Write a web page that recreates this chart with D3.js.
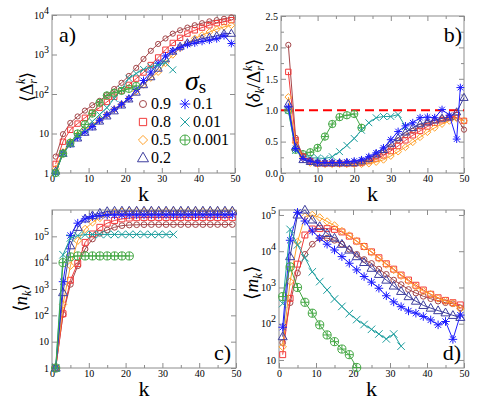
<!DOCTYPE html>
<html>
<head>
<meta charset="utf-8">
<script src="https://cdn.jsdelivr.net/npm/d3@7"></script>
<style>
  body { margin: 0; background: #fff; }
  svg { display: block; }
</style>
</head>
<body>
<svg id="fig" width="491" height="415"></svg>
<script>
// ---- data ----
var names = ["0.9", "0.8", "0.5", "0.2", "0.1", "0.01", "0.001"];

var kOdd = [1, 3, 5, 7, 9, 11, 13, 15, 17, 19, 21, 23, 25, 27, 29, 31, 33, 35, 37, 39, 41, 43, 45, 47, 49];
var kOdd33 = [1, 3, 5, 7, 9, 11, 13, 15, 17, 19, 21, 23, 25, 27, 29, 31, 33];
var kOdd23 = [1, 3, 5, 7, 9, 11, 13, 15, 17, 19, 21, 23];
var kOdd21 = [1, 3, 5, 7, 9, 11, 13, 15, 17, 19, 21];
var kEven = [2, 4, 6, 8, 10, 12, 14, 16, 18, 20, 22, 24, 26, 28, 30, 32, 34, 36, 38, 40, 42, 44, 46, 48, 50];
var kEven34 = [2, 4, 6, 8, 10, 12, 14, 16, 18, 20, 22, 24, 26, 28, 30, 32, 34];
var kEven22 = [2, 4, 6, 8, 10, 12, 14, 16, 18, 20, 22];
var kStarB = [2, 4, 6, 8, 10, 12, 14, 16, 18, 20, 22, 24, 26, 28, 30, 32, 34, 36, 38, 40, 42, 44, 46, 48, 49];

// a) <Delta_r^k>
var a09 = [2.6, 9.6, 18.5, 27, 38, 52, 67, 94, 134, 192, 286, 460, 770, 1240, 1850, 2550, 3370, 4100, 4800, 5500, 6200, 6900, 7400, 8000, 8700];
var a08 = [1.7, 6.2, 12.4, 17.8, 25, 34, 45, 63, 85, 122, 170, 245, 350, 540, 840, 1320, 1960, 2640, 3380, 4100, 4800, 5500, 6200, 6700, 7400];
var a05 = [1.3, 3.4, 6.2, 9.2, 12.4, 16.7, 22.5, 30, 41, 55, 77, 115, 170, 255, 360, 600, 980, 1450, 1960, 2550, 3100, 3700, 4350, 5000, 5500];
var a02 = [1.1, 3.1, 5.4, 7.6, 10.6, 14.5, 20.4, 27.5, 37, 52, 74, 110, 170, 270, 445, 770, 1200, 1600, 1960, 2240, 2500, 2750, 2950, 3370, 3400];
var a01 = [1, 3.2, 5.4, 8, 11, 15, 21.6, 30, 41, 55, 77, 130, 220, 360, 600, 920, 1240, 1500, 1800, 1960, 2150, 2300, 2500, 3000, 1900];
var a001 = [1, 3.1, 5.6, 8.7, 12.9, 20, 30, 45, 77, 130, 250, 330, 420, 490, 540, 620, 410];
var a0001 = [1, 3.1, 5.8, 10, 17, 32, 60, 92, 108, 120, 135, 160];

// b) <delta_k / Delta_r^k>
var b09 = [2.04, 0.56, 0.27, 0.2, 0.165, 0.15, 0.15, 0.15, 0.15, 0.155, 0.175, 0.21, 0.26, 0.33, 0.41, 0.52, 0.6, 0.67, 0.74, 0.8, 0.84, 0.87, 0.89, 0.88, 0.69];
var b08 = [1.61, 0.52, 0.26, 0.19, 0.15, 0.15, 0.15, 0.15, 0.15, 0.15, 0.16, 0.19, 0.23, 0.28, 0.35, 0.43, 0.52, 0.6, 0.67, 0.74, 0.8, 0.84, 0.88, 0.92, 0.83];
var b05 = [1.21, 0.48, 0.23, 0.16, 0.14, 0.14, 0.14, 0.14, 0.14, 0.14, 0.14, 0.15, 0.175, 0.21, 0.27, 0.34, 0.41, 0.49, 0.57, 0.65, 0.72, 0.78, 0.83, 0.87, 0.83];
var b02 = [1.1, 0.41, 0.21, 0.18, 0.16, 0.16, 0.16, 0.16, 0.16, 0.16, 0.19, 0.23, 0.3, 0.37, 0.47, 0.56, 0.65, 0.72, 0.78, 0.81, 0.84, 0.87, 0.89, 0.97, 1.2];
var b01 = [1.05, 0.39, 0.23, 0.19, 0.165, 0.165, 0.165, 0.165, 0.175, 0.19, 0.21, 0.26, 0.32, 0.4, 0.53, 0.66, 0.75, 0.8, 0.88, 0.89, 0.88, 1.01, 0.92, 0.54, 1.36];
var b001 = [1.0, 0.36, 0.28, 0.24, 0.24, 0.23, 0.26, 0.34, 0.44, 0.55, 0.68, 0.8, 0.88, 0.9, 0.9, 0.93, 0.74];
var b0001 = [1.0, 0.37, 0.3, 0.33, 0.4, 0.58, 0.78, 0.89, 0.92, 0.94, 0.72];

// c) <n_k>
var c09 = [1, 108, 1500, 7600, 33000, 79000, 130000, 174000, 220000, 255000, 268000, 275000, 278000, 280000, 280000, 280000, 280000, 280000, 280000, 280000, 280000, 280000, 280000, 280000, 280000];
var c08 = [1, 115, 2150, 9300, 59000, 123000, 220000, 316000, 400000, 460000, 495000, 510000, 520000, 520000, 520000, 520000, 520000, 520000, 520000, 520000, 520000, 520000, 520000, 520000, 520000];
var c05 = [1, 260, 7600, 68000, 190000, 340000, 500000, 670000, 800000, 860000, 880000, 890000, 890000, 890000, 890000, 890000, 890000, 890000, 890000, 890000, 890000, 890000, 890000, 890000, 890000];
var c02 = [1, 730, 44000, 220000, 460000, 615000, 760000, 880000, 910000, 920000, 920000, 920000, 920000, 920000, 920000, 920000, 920000, 920000, 920000, 920000, 920000, 920000, 920000, 920000, 920000];
var c01 = [1, 1900, 107000, 316000, 460000, 560000, 615000, 640000, 650000, 650000, 650000, 650000, 650000, 650000, 650000, 650000, 650000, 650000, 650000, 650000, 650000, 650000, 650000, 650000, 650000];
var c001 = [1, 20000, 87000, 107000, 116000, 118000, 118000, 118000, 118000, 118000, 118000, 118000, 118000, 118000, 118000, 118000, 118000];
var c0001 = [1, 10000, 16600, 18000, 18000, 18000, 18000, 18000, 18000, 18000, 18000];

// d) <m_k>
var d09 = [30, 380, 2500, 8200, 15600, 23000, 23000, 20000, 15600, 11300, 8200, 5900, 4600, 3200, 2300, 1600, 1200, 880, 700, 570, 490, 420, 380, 355, 275];
var d08 = [14, 500, 4400, 28000, 41000, 42000, 42000, 40000, 34000, 26000, 19000, 13500, 9600, 6600, 4500, 3200, 2200, 1600, 1150, 850, 650, 520, 440, 380, 330];
var d05 = [23, 1450, 18000, 90000, 100000, 85000, 66000, 51000, 36000, 27000, 19000, 13500, 9400, 6300, 4300, 3050, 2100, 1500, 1050, 790, 650, 500, 425, 365, 257];
var d02 = [44, 7100, 100000, 137000, 73000, 48000, 31000, 23000, 15600, 10800, 7100, 4900, 3400, 2300, 1600, 1100, 780, 560, 420, 320, 270, 230, 200, 170, 150];
var d01 = [80, 20000, 118000, 68000, 36000, 23000, 15600, 10800, 7100, 4650, 3050, 2000, 1400, 950, 590, 400, 295, 225, 195, 158, 127, 93, 115, 37, 173];
var d001 = [360, 40000, 15000, 6600, 2700, 1450, 850, 480, 300, 190, 130, 95, 70, 52, 38, 52, 24];
var d0001 = [560, 3700, 1000, 390, 195, 93, 49, 32, 20, 14, 6.2];

var xTicks = [0, 10, 20, 30, 40, 50];
var xMinor = [5, 15, 25, 35, 45];

// ---- styles ----
var serif = "'Liberation Serif', 'Times New Roman', Times, serif";
var colors = ["#a4474a", "#f23b3b", "#ffa12a", "#3e3e9e", "#1c1cff", "#1f9f9f", "#44a844"];
var frameColor = "#8c8c8c";

var circle = { draw: function (c, r) { c.moveTo(r, 0); c.arc(0, 0, r, 0, 2 * Math.PI); } };
var square = { draw: function (c, r) { c.rect(-r, -r, 2 * r, 2 * r); } };
var diamond = { draw: function (c, r) { c.moveTo(0, -r); c.lineTo(r, 0); c.lineTo(0, r); c.lineTo(-r, 0); c.closePath(); } };
var triangle = { draw: function (c, r) { c.moveTo(0, -r); c.lineTo(r * 0.95, r * 0.65); c.lineTo(-r * 0.95, r * 0.65); c.closePath(); } };
var star = { draw: function (c, r) {
  var d = r * 0.72;
  c.moveTo(0, -r); c.lineTo(0, r); c.moveTo(-r, 0); c.lineTo(r, 0);
  c.moveTo(-d, -d); c.lineTo(d, d); c.moveTo(-d, d); c.lineTo(d, -d);
} };
var cross = { draw: function (c, r) { c.moveTo(-r, -r); c.lineTo(r, r); c.moveTo(-r, r); c.lineTo(r, -r); } };
var oplus = { draw: function (c, r) {
  c.moveTo(r, 0); c.arc(0, 0, r, 0, 2 * Math.PI);
  c.moveTo(-r, 0); c.lineTo(r, 0); c.moveTo(0, -r); c.lineTo(0, r);
} };
var shapes = [circle, square, diamond, triangle, star, cross, oplus];
var sizes = [2.6, 2.7, 3.4, 4.3, 3.9, 3.4, 3.7];

var svg = d3.select("#fig");

function powFormat(d) { return d < 100 ? String(d) : "10"; }

function drawPanel(p) {
  var g = svg.append("g");
  var x = d3.scaleLinear().domain([0, 50]).range([p.left, p.right]);
  var y = (p.log ? d3.scaleLog() : d3.scaleLinear()).domain(p.yDomain).range([p.bottom, p.top]);

  function axisG(t) {
    return g.append("g").attr("transform", t).attr("font-size", 14);
  }

  axisG("translate(0," + p.bottom + ")").call(d3.axisBottom(x).tickValues(xMinor).tickSize(-3).tickFormat(""));
  axisG("translate(0," + p.top + ")").call(d3.axisTop(x).tickValues(xMinor).tickSize(-3).tickFormat(""));
  axisG("translate(0," + p.bottom + ")").call(d3.axisBottom(x).tickValues(xTicks).tickSize(-5).tickPadding(2));
  axisG("translate(0," + p.top + ")").call(d3.axisTop(x).tickValues(xTicks).tickSize(-5).tickFormat(""));

  var yl = axisG("translate(" + p.left + ",0)")
    .call(d3.axisLeft(y).tickValues(p.yTicks).tickSize(-5).tickPadding(3).tickFormat(p.yFormat));
  axisG("translate(" + p.right + ",0)").call(d3.axisRight(y).tickValues(p.yTicks).tickSize(-5).tickFormat(""));
  if (p.yMinor) {
    axisG("translate(" + p.left + ",0)").call(d3.axisLeft(y).tickValues(p.yMinor).tickSize(-3).tickFormat(""));
    axisG("translate(" + p.right + ",0)").call(d3.axisRight(y).tickValues(p.yMinor).tickSize(-3).tickFormat(""));
  }
  if (p.log) {
    yl.selectAll(".tick text").each(function (d) {
      if (d >= 100) {
        d3.select(this).append("tspan").attr("dy", "-0.5em").attr("font-size", 10)
          .text(Math.round(Math.log10(d)));
      }
    });
  }
  g.selectAll(".domain").remove();
  g.selectAll(".tick line").attr("stroke", frameColor);
  g.selectAll(".tick text").attr("fill", "#000");

  g.append("rect").attr("x", p.left).attr("y", p.top)
    .attr("width", p.right - p.left).attr("height", p.bottom - p.top)
    .attr("fill", "none").attr("stroke", frameColor).attr("stroke-width", 1);

  if (p.refLine) {
    g.append("line").attr("x1", x(0)).attr("x2", x(50)).attr("y1", y(p.refLine)).attr("y2", y(p.refLine))
      .attr("stroke", "#ff0000").attr("stroke-width", 2).attr("stroke-dasharray", "9,5");
  }

  p.series.forEach(function (s) {
    var col = colors[s.i];
    var line = d3.line().x(function (d, j) { return x(s.k[j]); }).y(function (d) { return y(d); });
    g.append("path").datum(s.v).attr("d", line)
      .attr("fill", "none").attr("stroke", col).attr("stroke-width", 1);
    g.selectAll(null).data(s.v).enter().append("path")
      .attr("transform", function (d, j) { return "translate(" + x(s.k[j]) + "," + y(d) + ")"; })
      .attr("d", d3.symbol(shapes[s.i], sizes[s.i] * (p.markScale || 1)))
      .attr("fill", "none").attr("stroke", col).attr("stroke-width", 1);
  });

  svg.append("text").attr("x", (p.left + p.right) / 2).attr("y", p.bottom + 28)
    .attr("text-anchor", "middle").attr("font-size", 22).text("k");
  svg.append("text").attr("x", p.tagX).attr("y", p.tagY).attr("text-anchor", p.tagAnchor)
    .attr("font-size", 22).text(p.tag);
}

drawPanel({
  left: 52, right: 235, top: 15, bottom: 173, log: true, yDomain: [1, 1e4],
  yTicks: [1, 10, 100, 1000, 10000], yFormat: powFormat,
  tag: "a)", tagX: 59, tagY: 42, tagAnchor: "start",
  series: [
    { i: 0, k: kOdd, v: a09 }, { i: 1, k: kOdd, v: a08 }, { i: 2, k: kOdd, v: a05 },
    { i: 3, k: kOdd, v: a02 }, { i: 4, k: kOdd, v: a01 }, { i: 5, k: kOdd33, v: a001 },
    { i: 6, k: kOdd23, v: a0001 }
  ]
});

drawPanel({
  left: 281, right: 464, top: 16, bottom: 173, log: false, yDomain: [0, 2.5],
  yTicks: [0, 0.5, 1, 1.5, 2, 2.5], yMinor: [0.25, 0.75, 1.25, 1.75, 2.25], yFormat: d3.format(".1f"),
  tag: "b)", tagX: 462, tagY: 42, tagAnchor: "end", refLine: 1,
  series: [
    { i: 6, k: kEven22, v: b0001 }, { i: 5, k: kEven34, v: b001 },
    { i: 0, k: kEven, v: b09 }, { i: 1, k: kEven, v: b08 }, { i: 2, k: kEven, v: b05 },
    { i: 3, k: kEven, v: b02 }, { i: 4, k: kStarB, v: b01 }
  ]
});

drawPanel({
  left: 52, right: 236, top: 210, bottom: 368, log: true, yDomain: [1, 1e6],
  yTicks: [1, 10, 100, 1000, 10000, 100000], yFormat: powFormat,
  tag: "c)", tagX: 231, tagY: 360, tagAnchor: "end", markScale: 1.1,
  series: [
    { i: 0, k: kOdd, v: c09 }, { i: 1, k: kOdd, v: c08 }, { i: 2, k: kOdd, v: c05 },
    { i: 3, k: kOdd, v: c02 }, { i: 4, k: kOdd, v: c01 }, { i: 5, k: kOdd33, v: c001 },
    { i: 6, k: kOdd21, v: c0001 }
  ]
});

drawPanel({
  left: 279, right: 464, top: 210, bottom: 368, log: true, yDomain: [6, 1.37e5],
  yTicks: [10, 100, 1000, 10000, 100000], yFormat: powFormat,
  tag: "d)", tagX: 461, tagY: 360, tagAnchor: "end", markScale: 1.1,
  series: [
    { i: 0, k: kOdd, v: d09 }, { i: 1, k: kOdd, v: d08 }, { i: 2, k: kOdd, v: d05 },
    { i: 3, k: kOdd, v: d02 }, { i: 4, k: kOdd, v: d01 }, { i: 5, k: kOdd33, v: d001 },
    { i: 6, k: kOdd21, v: d0001 }
  ]
});

// ---- y axis titles ----
function yTitle(x, y, size, parts) {
  var t = svg.append("text").attr("transform", "translate(" + x + "," + y + ") rotate(-90)")
    .attr("text-anchor", "middle").attr("font-size", size);
  parts.forEach(function (p) {
    var s = t.append("tspan").text(p.t);
    if (p.fs) s.attr("font-size", p.fs);
    if (p.it) s.attr("font-style", "italic");
    if (p.dx) s.attr("dx", p.dx);
    if (p.dy) s.attr("dy", p.dy);
  });
}
yTitle(33, 87, 18, [{ t: "\u27E8\u0394" }, { t: "r", fs: 12, it: 1, dy: 4 }, { t: "k", fs: 12, it: 1, dx: -5, dy: -12 }, { t: "\u27E9", dy: 8 }]);
yTitle(260, 84, 19, [{ t: "\u27E8" }, { t: "\u03B4", it: 1 }, { t: "k", fs: 12, it: 1, dy: 4 }, { t: "/\u0394", dy: -4 },
  { t: "r", fs: 12, it: 1, dy: 4 }, { t: "k", fs: 12, it: 1, dx: -5, dy: -12 }, { t: "\u27E9", dy: 8 }]);
yTitle(27, 298, 19, [{ t: "\u27E8" }, { t: "n", it: 1 }, { t: "k", fs: 12, it: 1, dy: 4 }, { t: "\u27E9", dy: -4 }]);
yTitle(258, 283, 19, [{ t: "\u27E8" }, { t: "m", it: 1 }, { t: "k", fs: 12, it: 1, dy: 4 }, { t: "\u27E9", dy: -4 }]);

// ---- legend in panel a ----
var sig = svg.append("text").attr("x", 185).attr("y", 90).attr("font-size", 28).attr("font-style", "italic").text("\u03C3");
sig.append("tspan").attr("font-size", 19).attr("font-style", "normal").attr("dy", 3).text("s");

var legendPos = [[143, 104], [143, 122], [143, 140], [143, 158], [185, 104], [185, 122], [185, 140]];
var leg = svg.append("g").selectAll("g").data(names).enter().append("g")
  .attr("transform", function (d, i) { return "translate(" + legendPos[i][0] + "," + legendPos[i][1] + ")"; });
leg.append("path")
  .attr("d", function (d, i) { return d3.symbol(shapes[i], sizes[i] * 1.35)(); })
  .attr("fill", "none").attr("stroke", function (d, i) { return colors[i]; })
  .attr("stroke-width", 1);
leg.append("text").attr("x", 8).attr("y", 5).attr("font-size", 16).text(function (d) { return d; });

// every text in the serif face of the original
svg.selectAll("text").style("font-family", serif);
</script>
</body>
</html>
